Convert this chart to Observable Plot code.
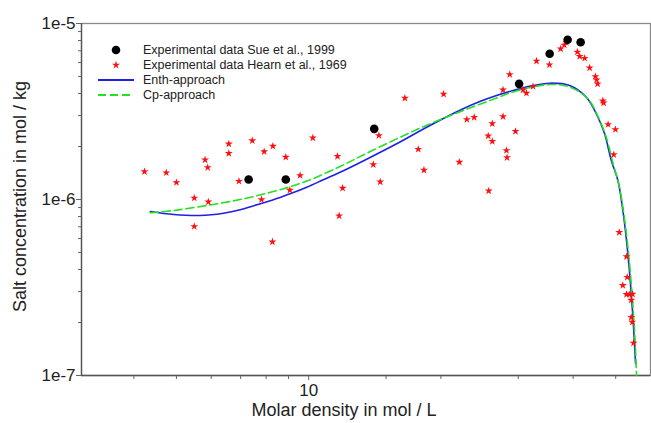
<!DOCTYPE html>
<html>
<head>
<meta charset="utf-8">
<script src="https://cdn.jsdelivr.net/npm/d3@7"></script>
<script src="https://cdn.jsdelivr.net/npm/@observablehq/plot@0.6"></script>
<style>
  html, body { margin: 0; padding: 0; background: #fff; }
  #wrap { position: relative; width: 651px; height: 423px; font-family: Arial, "Liberation Sans", sans-serif; }
</style>
</head>
<body>
<div id="wrap"></div>
<script>
// Experimental data Sue et al., 1999
const sueX = [7.30, 8.87, 14.10, 30.13, 35.37, 38.86, 41.60];
const sueY = [1.30e-6, 1.30e-6, 2.52e-6, 4.54e-6, 6.73e-6, 8.08e-6, 7.83e-6];

// Experimental data Hearn et al., 1969
const hearnX = [4.23, 4.74, 5.00, 5.49, 5.91, 5.49, 5.81, 5.89, 6.58, 6.58,
  7.44, 7.92, 8.29, 8.87, 6.94, 7.81, 9.06, 9.56, 10.22, 8.27,
  11.73, 11.63, 11.95, 14.03, 14.45, 14.55, 16.56, 17.76, 18.30, 20.28,
  22.03, 22.91, 23.81, 25.63, 26.18, 25.70, 26.18, 27.70, 28.20, 28.29,
  29.57, 27.70, 28.69, 30.76, 31.31, 32.41, 33.01, 35.33, 37.46, 38.19,
  38.60, 40.89, 41.39, 42.49, 43.61, 44.94, 45.24, 45.47, 46.75, 46.93,
  48.04, 49.91, 49.49, 50.93, 52.91, 53.11, 51.90, 52.91, 53.68, 54.61,
  54.24, 54.24, 54.53, 54.90];
const hearnY = [1.44e-6, 1.42e-6, 1.25e-6, 1.02e-6, 9.70e-7, 7.03e-7, 1.68e-6, 1.52e-6, 2.07e-6, 1.83e-6,
  2.16e-6, 1.87e-6, 2.01e-6, 1.74e-6, 1.27e-6, 1.00e-6, 1.13e-6, 1.37e-6, 2.24e-6, 5.75e-7,
  8.08e-7, 1.76e-6, 1.16e-6, 1.58e-6, 2.31e-6, 1.26e-6, 3.77e-6, 1.93e-6, 1.47e-6, 3.97e-6,
  1.63e-6, 2.85e-6, 2.93e-6, 2.30e-6, 2.14e-6, 1.12e-6, 2.70e-6, 2.96e-6, 1.90e-6, 1.73e-6,
  2.44e-6, 4.20e-6, 5.13e-6, 4.20e-6, 4.02e-6, 4.39e-6, 6.12e-6, 5.83e-6, 7.18e-6, 7.55e-6,
  7.80e-6, 6.89e-6, 6.51e-6, 6.35e-6, 5.60e-6, 5.00e-6, 4.79e-6, 4.54e-6, 3.64e-6, 3.54e-6,
  2.67e-6, 2.50e-6, 1.80e-6, 6.51e-7, 4.74e-7, 3.62e-7, 3.25e-7, 2.89e-7, 2.89e-7, 2.90e-7,
  2.68e-7, 2.14e-7, 2.01e-7, 1.53e-7];

// Enth-approach
const enthX = [4.36, 4.93, 5.66, 6.40, 6.98, 7.62, 8.31, 9.07, 9.90, 10.80,
  11.79, 13.31, 15.86, 18.88, 22.47, 24.52, 26.77, 29.19, 31.85, 35.38,
  39.28, 42.86, 45.17, 47.17, 48.86, 50.58, 51.91, 53.29, 54.24, 54.90, 55.48];
const enthY = [8.55e-7, 8.22e-7, 8.11e-7, 8.36e-7, 8.74e-7, 9.33e-7, 9.96e-7, 1.077e-6, 1.174e-6, 1.294e-6,
  1.427e-6, 1.655e-6, 2.072e-6, 2.633e-6, 3.277e-6, 3.604e-6, 3.90e-6, 4.16e-6, 4.40e-6, 4.58e-6,
  4.44e-6, 3.81e-6, 3.07e-6, 2.36e-6, 1.665e-6, 1.282e-6, 8.66e-7, 4.93e-7, 2.92e-7, 1.88e-7, 1.17e-7];

// Cp-approach
const cpX = [4.36, 4.93, 5.87, 6.98, 8.31, 9.90, 11.79, 13.31, 15.86, 18.88,
  22.47, 26.77, 29.71, 35.38, 39.28, 43.15, 45.47, 47.60, 49.30,
  50.90, 52.24, 53.62, 54.60, 55.26, 55.77];
const cpY = [8.40e-7, 8.66e-7, 9.25e-7, 1.00e-6, 1.11e-6, 1.273e-6, 1.54e-6, 1.79e-6, 2.21e-6, 2.69e-6,
  3.205e-6, 3.77e-6, 4.135e-6, 4.50e-6, 4.36e-6, 3.75e-6, 3.00e-6, 2.25e-6, 1.60e-6,
  1.20e-6, 8.11e-7, 4.62e-7, 2.67e-7, 1.69e-7, 1.0e-7];

// Axis ticks
const yMajor = [1e-7, 1e-6, 1e-5];
const yMinor = [2e-7,3e-7,4e-7,5e-7,6e-7,7e-7,8e-7,9e-7,2e-6,3e-6,4e-6,5e-6,6e-6,7e-6,8e-6,9e-6];
const xMajor = [10];
const xMinor = [4, 5, 6, 7, 8, 9, 15, 20, 30, 40, 50];

const legendLabels = ["Experimental data Sue et al., 1999", "Experimental data Hearn et al., 1969", "Enth-approach", "Cp-approach"];
const xLabel = "Molar density in mol / L";
const yLabel = "Salt concentration in mol / kg";

const sue = sueX.map((x, i) => ({x, y: sueY[i]}));
const hearn = hearnX.map((x, i) => ({x, y: hearnY[i]}));
const enth = enthX.map((x, i) => ({x, y: enthY[i]}));
const cp = cpX.map((x, i) => ({x, y: cpY[i]}));

const axisColor = "#666";

const chart = Plot.plot({
  width: 651,
  height: 423,
  marginLeft: 81,
  marginRight: 1,
  marginTop: 23,
  marginBottom: 48,
  style: {fontFamily: "Arial, 'Liberation Sans', sans-serif", fontSize: "17px", color: "#222", background: "#fff"},
  x: {type: "log", domain: [3.04, 60]},
  y: {type: "log", domain: [1e-7, 1e-5]},
  marks: [
    Plot.frame({stroke: "#888", strokeWidth: 1.3}),
    Plot.axisY({ticks: yMinor, tickSize: 3, tickFormat: () => "", stroke: axisColor, label: null}),
    Plot.axisY({ticks: yMajor, tickSize: 5, tickPadding: 1, tickFormat: d => "1e" + Math.round(Math.log10(d)), stroke: axisColor, fill: "#222", fontSize: 17, label: null}),
    Plot.axisX({ticks: xMinor, tickSize: 4, tickFormat: () => "", stroke: axisColor, label: null}),
    Plot.axisX({ticks: xMajor, tickSize: 5, tickPadding: 3, tickFormat: d => String(d), stroke: axisColor, fill: "#222", fontSize: 17, label: null}),
    Plot.ruleX([3.04], {stroke: "#555", strokeWidth: 1.3}),
    Plot.ruleY([1e-7], {stroke: "#555", strokeWidth: 1.3}),
    Plot.line(enth, {x: "x", y: "y", stroke: "#1f1fe6", strokeWidth: 1.6, curve: "catmull-rom"}),
    Plot.line(cp, {x: "x", y: "y", stroke: "#22e022", strokeWidth: 1.6, strokeDasharray: "8,4", curve: "catmull-rom"}),
    Plot.dot(hearn, {x: "x", y: "y", symbol: "star", r: 2.5, fill: "#ff1010", stroke: "none"}),
    Plot.dot(sue, {x: "x", y: "y", r: 4.3, fill: "#000", stroke: "none"}),
    Plot.text([xLabel], {frameAnchor: "bottom", dx: -22, dy: 35, fontSize: 18, fill: "#222", lineAnchor: "middle", textAnchor: "middle"}),
    Plot.text([yLabel], {frameAnchor: "left", dx: -61, dy: -3, rotate: -90, fontSize: 18, fill: "#222", lineAnchor: "middle", textAnchor: "middle"})
  ]
});

const wrap = document.getElementById("wrap");
wrap.appendChild(chart);

// Legend overlay
const leg = d3.select(wrap).append("svg")
  .attr("width", 260).attr("height", 70)
  .style("position", "absolute").style("left", "92px").style("top", "40px");
const rowY = [10, 25, 40, 55];
leg.append("circle").attr("cx", 24).attr("cy", rowY[0]).attr("r", 4.3).attr("fill", "#000");
leg.append("path").attr("d", d3.symbol(d3.symbolStar, Math.PI * 2.5 * 2.5)()).attr("transform", `translate(24,${rowY[1]})`).attr("fill", "#ff1010");
leg.append("line").attr("x1", 6).attr("x2", 42).attr("y1", rowY[2]).attr("y2", rowY[2]).attr("stroke", "#1f1fe6").attr("stroke-width", 1.8);
leg.append("line").attr("x1", 6).attr("x2", 42).attr("y1", rowY[3]).attr("y2", rowY[3]).attr("stroke", "#22e022").attr("stroke-width", 1.8).attr("stroke-dasharray", "8,4");
legendLabels.forEach((t, i) => {
  leg.append("text").attr("x", 51).attr("y", rowY[i]).attr("dy", "0.35em")
    .attr("font-size", 12.5).attr("fill", "#222").attr("font-family", "Arial, 'Liberation Sans', sans-serif").text(t);
});
</script>
</body>
</html>
